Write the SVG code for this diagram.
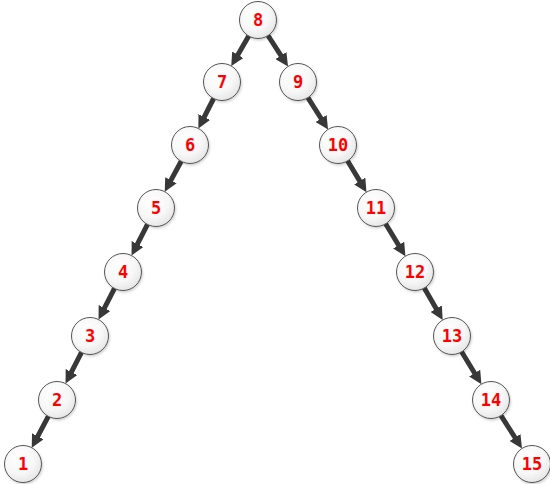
<svg xmlns="http://www.w3.org/2000/svg" width="550" height="484" viewBox="0 0 550 484">
<style>
.n circle{fill:url(#g);stroke:#555;stroke-width:1;filter:url(#sh)}
.n text{font-family:"DejaVu Sans Mono","Liberation Mono",monospace;font-weight:bold;font-size:17px;fill:#f00;text-anchor:middle;dominant-baseline:central}
.e line{stroke:#383838;stroke-width:5;marker-end:url(#ah)}
</style>
<defs>
<radialGradient id="g" cx="0.4" cy="0.35" r="0.7">
<stop offset="0" stop-color="#ffffff"/>
<stop offset="0.6" stop-color="#f7f7f7"/>
<stop offset="1" stop-color="#e4e4e4"/>
</radialGradient>
<filter id="sh" x="-30%" y="-30%" width="170%" height="170%">
<feDropShadow dx="1" dy="1.5" stdDeviation="1" flood-color="#000" flood-opacity="0.18"/>
</filter>
<marker id="ah" markerUnits="userSpaceOnUse" viewBox="0 0 13 13" markerWidth="13" markerHeight="13" refX="3" refY="6.5" orient="auto">
<path d="M0,0 L13,6.5 L0,13 z" fill="#383838"/>
</marker>
</defs>
<g id="edges" class="e">
<line x1="248.7" y1="36.0" x2="236.3" y2="57.4"/>
<line x1="268.0" y1="35.5" x2="282.6" y2="58.1"/>
<line x1="213.6" y1="98.5" x2="202.9" y2="119.6"/>
<line x1="181.2" y1="161.3" x2="169.5" y2="182.9"/>
<line x1="147.5" y1="224.4" x2="136.1" y2="246.7"/>
<line x1="114.5" y1="288.4" x2="103.1" y2="310.7"/>
<line x1="81.5" y1="352.4" x2="70.1" y2="374.7"/>
<line x1="48.3" y1="416.3" x2="36.4" y2="438.9"/>
<line x1="307.9" y1="97.6" x2="322.7" y2="121.0"/>
<line x1="347.5" y1="160.8" x2="361.3" y2="183.6"/>
<line x1="385.6" y1="223.8" x2="400.2" y2="247.7"/>
<line x1="424.3" y1="288.0" x2="437.7" y2="311.3"/>
<line x1="461.6" y1="351.8" x2="476.2" y2="375.7"/>
<line x1="501.0" y1="415.6" x2="516.6" y2="440.0"/>
</g>
<g id="n8" class="n"><circle cx="258" cy="20" r="18.5"/><text x="258" y="20">8</text></g>
<g id="n7" class="n"><circle cx="222" cy="82" r="18.5"/><text x="222" y="82">7</text></g>
<g id="n9" class="n"><circle cx="298" cy="82" r="18.5"/><text x="298" y="82">9</text></g>
<g id="n6" class="n"><circle cx="190" cy="145" r="18.5"/><text x="190" y="145">6</text></g>
<g id="n10" class="n"><circle cx="338" cy="145" r="18.5"/><text x="338" y="145">10</text></g>
<g id="n5" class="n"><circle cx="156" cy="208" r="18.5"/><text x="156" y="208">5</text></g>
<g id="n11" class="n"><circle cx="376" cy="208" r="18.5"/><text x="376" y="208">11</text></g>
<g id="n4" class="n"><circle cx="123" cy="272" r="18.5"/><text x="123" y="272">4</text></g>
<g id="n12" class="n"><circle cx="415" cy="272" r="18.5"/><text x="415" y="272">12</text></g>
<g id="n3" class="n"><circle cx="90" cy="336" r="18.5"/><text x="90" y="336">3</text></g>
<g id="n13" class="n"><circle cx="452" cy="336" r="18.5"/><text x="452" y="336">13</text></g>
<g id="n2" class="n"><circle cx="57" cy="400" r="18.5"/><text x="57" y="400">2</text></g>
<g id="n14" class="n"><circle cx="491" cy="400" r="18.5"/><text x="491" y="400">14</text></g>
<g id="n1" class="n"><circle cx="23" cy="464" r="18.5"/><text x="23" y="464">1</text></g>
<g id="n15" class="n"><circle cx="532" cy="464" r="18.5"/><text x="532" y="464">15</text></g>
</svg>
